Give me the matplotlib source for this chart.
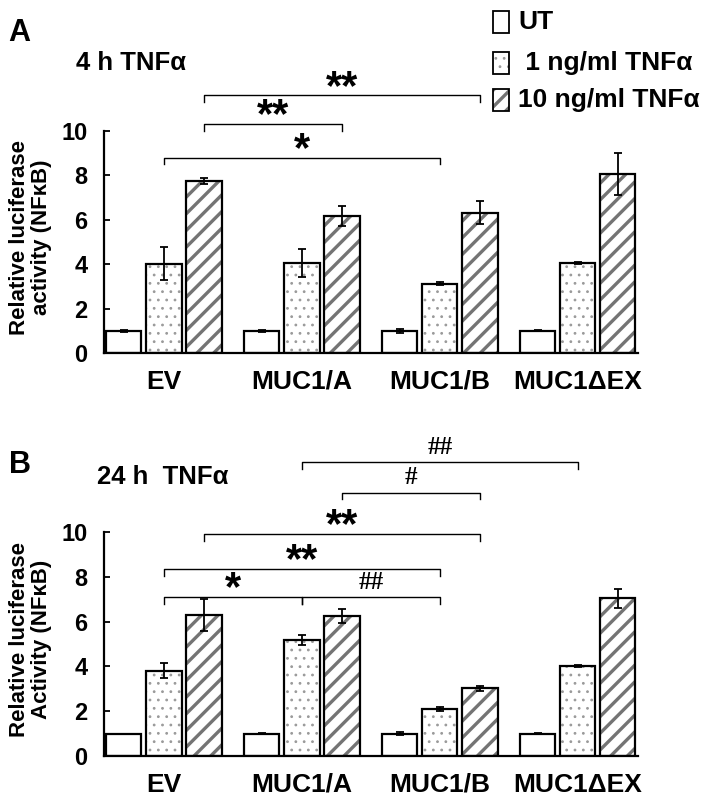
import numpy as np
import matplotlib
matplotlib.use('Agg')
import matplotlib.pyplot as plt
from matplotlib.patches import Rectangle

plt.rcParams['font.family'] = ['Liberation Sans', 'DejaVu Sans']
plt.rcParams['font.weight'] = 'bold'

# data
groups = ['EV', 'MUC1/A', 'MUC1/B', 'MUC1\u0394EX']
series = ['UT', ' 1 ng/ml TNF\u03b1', '10 ng/ml TNF\u03b1']

a_ut = [1.0, 1.0, 1.0, 1.0]
a_ut_err = [0.05, 0.04, 0.1, 0.03]
a_1ng = [4.03, 4.06, 3.13, 4.05]
a_1ng_err = [0.75, 0.63, 0.05, 0.05]
a_10ng = [7.74, 6.17, 6.32, 8.06]
a_10ng_err = [0.15, 0.45, 0.52, 0.94]

b_ut = [1.0, 1.0, 1.0, 1.0]
b_ut_err = [0.0, 0.04, 0.05, 0.02]
b_1ng = [3.8, 5.17, 2.1, 4.03]
b_1ng_err = [0.33, 0.23, 0.1, 0.05]
b_10ng = [6.29, 6.24, 3.02, 7.03]
b_10ng_err = [0.7, 0.32, 0.1, 0.42]

# significance brackets: (group, series) start, (group, series) end, height, label
a_sig = [((0, 2), (2, 2), 11.6, '**'),
         ((0, 2), (1, 2), 10.3, '**'),
         ((0, 1), (2, 1), 8.8, '*')]
b_sig = [((1, 1), (3, 1), 13.1, '##'),
         ((1, 2), (2, 2), 11.75, '#'),
         ((0, 2), (2, 2), 9.9, '**'),
         ((0, 1), (2, 1), 8.35, '**'),
         ((0, 1), (1, 1), 7.1, '*'),
         ((1, 1), (2, 1), 7.1, '##')]

W = 0.254
OFF = 0.29
fills = [dict(hatch=None, color='white'),
         dict(hatch='..', color='#9a9a9a'),
         dict(hatch='//', color='#747474')]


def hatched_bar(ax, x, h, k):
    st = fills[k]
    if st['hatch']:
        b = ax.bar(x, h, W, color='white', edgecolor=st['color'], lw=0,
                   hatch=st['hatch'], zorder=2)
        for p in b:
            if hasattr(p, 'set_hatch_linewidth'):
                p.set_hatch_linewidth(2.4 if k == 2 else 0.8)
    else:
        ax.bar(x, h, W, color='white', lw=0, zorder=2)
    ax.bar(x, h, W, fill=False, edgecolor='black', lw=1.6, zorder=3)


def panel(ax, vals, errs, sigs, ylab):
    x = np.arange(len(groups))
    for k in range(3):
        xs = x + (k - 1) * OFF
        hatched_bar(ax, xs, vals[k], k)
        ax.errorbar(xs, vals[k], yerr=errs[k], fmt='none', ecolor='black',
                    elinewidth=1.3, capsize=3, capthick=1.3, zorder=4)
    ax.set_xlim(-0.435, 3.435)
    ax.set_ylim(0, 10)
    ax.set_yticks([0, 2, 4, 6, 8, 10])
    ax.set_xticks(x)
    ax.set_xticklabels(groups, fontsize=19, fontweight='bold')
    ax.tick_params(axis='x', length=0, pad=12)
    ax.tick_params(axis='y', direction='in', length=4, width=1.3, labelsize=17, pad=12)
    for lab in ax.get_yticklabels():
        lab.set_fontweight('bold')
    for s in ['top', 'right']:
        ax.spines[s].set_visible(False)
    for s in ['left', 'bottom']:
        ax.spines[s].set_linewidth(1.6)
    ax.set_ylabel(ylab, fontsize=16, fontweight='bold', linespacing=1.05)
    ax.yaxis.set_label_coords(-0.097, 0.52)
    for (g1, s1), (g2, s2), y, lab in sigs:
        x1 = g1 + (s1 - 1) * OFF
        x2 = g2 + (s2 - 1) * OFF
        ax.plot([x1, x1, x2, x2], [y - 0.3, y, y, y - 0.3], color='black',
                lw=1.0, clip_on=False)
        if '#' in lab:
            ax.text((x1 + x2) / 2, y + 0.15, lab, ha='center', va='bottom',
                    fontsize=18, fontweight='bold', family='Liberation Serif')
        else:
            ax.text((x1 + x2) / 2, y - 0.55, lab, ha='center', va='bottom',
                    fontsize=30, fontweight='bold')


fig = plt.figure(figsize=(7.23, 8.05), dpi=100)
ax_a = fig.add_axes([0.1438, 0.5615, 0.7386, 0.2758])
ax_b = fig.add_axes([0.1438, 0.0609, 0.7386, 0.2783])

panel(ax_a, [a_ut, a_1ng, a_10ng], [a_ut_err, a_1ng_err, a_10ng_err], a_sig,
      'Relative luciferase\nactivity (NF\u03baB)')
panel(ax_b, [b_ut, b_1ng, b_10ng], [b_ut_err, b_1ng_err, b_10ng_err], b_sig,
      'Relative luciferase\nActivity (NF\u03baB)')

fig.text(0.012, 1 - 33 / 805, 'A', fontsize=22, fontweight='bold', va='center')
fig.text(76 / 723, 1 - 63 / 805, '4 h TNF\u03b1', fontsize=18.5, fontweight='bold', va='center')
fig.text(0.012, 1 - 465 / 805, 'B', fontsize=22, fontweight='bold', va='center')
fig.text(97 / 723, 1 - 477 / 805, '24 h  TNF\u03b1', fontsize=18.5, fontweight='bold', va='center')

# legend drawn by hand in figure pixels
leg_y = [22, 63, 100]
for k, (name, yc) in enumerate(zip(series, leg_y)):
    x0, y0 = 493 / 723, 1 - (yc + 11) / 805
    w, h = 16 / 723, 22 / 805
    st = fills[k]
    if st['hatch']:
        r = Rectangle((x0, y0), w, h, transform=fig.transFigure, facecolor='white',
                      edgecolor=st['color'], lw=0, hatch=st['hatch'])
        if hasattr(r, 'set_hatch_linewidth'):
            r.set_hatch_linewidth(2.4 if k == 2 else 0.8)
        fig.add_artist(r)
    fig.add_artist(Rectangle((x0, y0), w, h, transform=fig.transFigure,
                             fill=False, edgecolor='black', lw=1.3))
    fig.text(518 / 723, 1 - yc / 805, name, fontsize=19, fontweight='bold', va='center')

fig.savefig('out.png', dpi=100)
